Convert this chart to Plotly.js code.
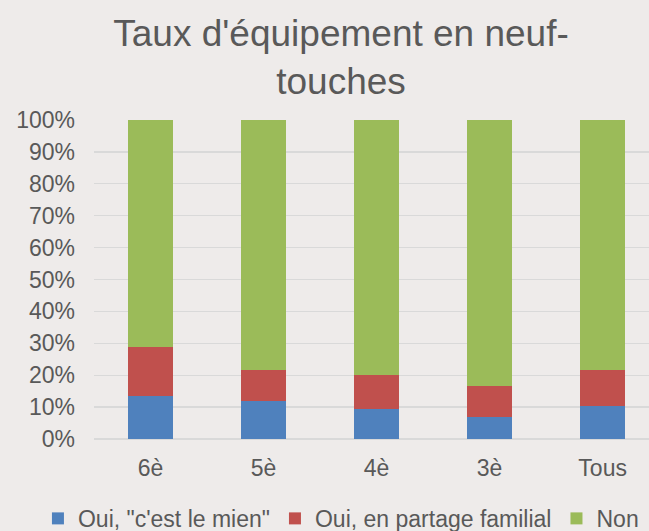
<!DOCTYPE html>
<html>
<head>
<meta charset="utf-8">
<script src="https://cdn.plot.ly/plotly-3.0.1.min.js"></script>
<style>html,body{margin:0;padding:0;background:#EEEBEA;}#chart{width:649px;height:531px;}</style>
</head>
<body>
<div id="chart"></div>
<script>
const categories = ["6è", "5è", "4è", "3è", "Tous"];
const seriesNames = ['Oui, "c\'est le mien"', "Oui, en partage familial", "Non"];
const ouiMien = [0.136, 0.120, 0.094, 0.069, 0.103];
const ouiPartage = [0.151, 0.095, 0.108, 0.096, 0.113];
const non = [0.713, 0.785, 0.798, 0.835, 0.784];
const colors = ["#4F81BD", "#C0504D", "#9BBB59"];

const values = [ouiMien, ouiPartage, non];
const traces = values.map((v, i) => ({
  type: "bar",
  name: seriesNames[i],
  x: categories,
  y: v,
  marker: { color: colors[i] },
  hoverinfo: "x+y+name"
}));

const font = "Liberation Sans, Arial, sans-serif";
const layout = {
  width: 649,
  height: 531,
  paper_bgcolor: "#EEEBEA",
  plot_bgcolor: "#EEEBEA",
  barmode: "stack",
  bargap: 0.6,
  margin: { l: 94, r: 0, t: 120, b: 91.5, autoexpand: false },
  title: {
    text: "Taux d'équipement en neuf-<br>touches",
    font: { family: font, size: 37, color: "#595959" },
    x: 0.5255, xref: "container", xanchor: "center",
    y: 0.914, yref: "container", yanchor: "top"
  },
  xaxis: {
    type: "category",
    range: [-0.5, 4.41],
    showgrid: false,
    zeroline: false,
    showline: false,
    ticks: "",
    tickfont: { family: font, size: 23, color: "#595959" },
    ticklabelstandoff: 13,
    automargin: false
  },
  yaxis: {
    range: [0, 1],
    dtick: 0.1,
    tickformat: ".0%",
    showgrid: true,
    gridcolor: "#D9D9D9",
    gridwidth: 1.3,
    zeroline: true,
    zerolinecolor: "#D9D9D9",
    zerolinewidth: 1.3,
    showline: false,
    ticks: "",
    tickfont: { family: font, size: 23, color: "#595959" },
    ticklabelstandoff: 18,
    automargin: false
  },
  showlegend: true,
  legend: {
    orientation: "h",
    x: -0.101, xref: "paper", xanchor: "left",
    y: -0.249, yref: "paper", yanchor: "middle",
    font: { family: font, size: 23, color: "#595959" },
    bgcolor: "rgba(0,0,0,0)",
    itemwidth: 30,
    traceorder: "normal"
  }
};

Plotly.newPlot("chart", traces, layout, { displayModeBar: false, staticPlot: true });
</script>
</body>
</html>
